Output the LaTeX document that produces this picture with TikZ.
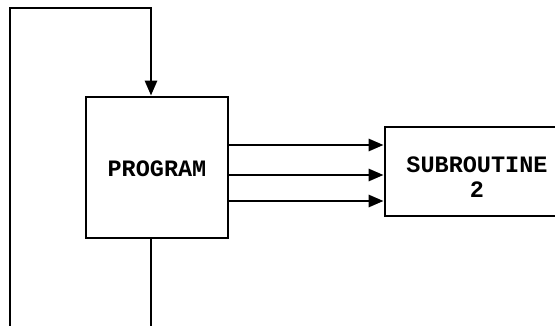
\documentclass[tikz,border=0pt]{standalone}
\usepackage{fontspec}
\setmonofont{Liberation Mono}
\usetikzlibrary{arrows.meta}
\tikzset{
  lbl/.style={font=\fontsize{23.5}{25}\selectfont\ttfamily\bfseries, align=center, inner sep=0pt},
  box/.style={draw, line width=2.8pt, fill=white, inner sep=0pt},
  conn/.style={line width=2.8pt},
  arr/.style={conn, -{Triangle[length=15pt,width=12pt]}}
}
\begin{document}
\begin{tikzpicture}[x=1pt,y=-1pt]
\useasboundingbox (0,0) rectangle (555,326);
\node[box, minimum width=142pt, minimum height=141pt] (prog) at (157,167.5) {};
\node[lbl] (progt) at (157,169) {PROGRAM};
\node[box, minimum width=184pt, minimum height=89pt] (sub) at (477,171.5) {};
\node[lbl] (subt) at (477,177.5) {SUBROUTINE\\2};
\coordinate (bl) at (10,326);
\coordinate (tl) at (10,8);
\coordinate (bb) at (151,326);
\coordinate (r1) at (300,145);
\coordinate (r2) at (300,175);
\coordinate (r3) at (300,201);
\draw[arr] (bl) -- (tl) -| (prog.north -| bb);
\draw[conn] (prog.south -| bb) -- (bb);
\draw[arr] (prog.east |- r1) -- (sub.west |- r1);
\draw[arr] (prog.east |- r2) -- (sub.west |- r2);
\draw[arr] (prog.east |- r3) -- (sub.west |- r3);
\end{tikzpicture}
\end{document}
